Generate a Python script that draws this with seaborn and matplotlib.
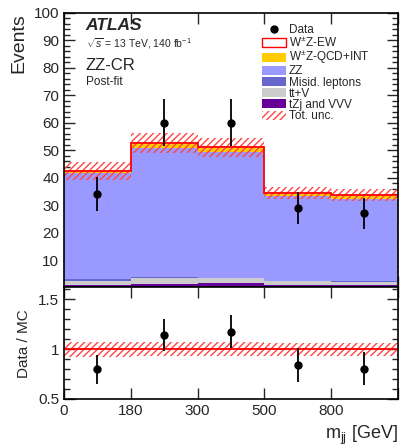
import numpy as np
import pandas as pd
import matplotlib
matplotlib.use('Agg')
import matplotlib.pyplot as plt
import seaborn as sns
from matplotlib.ticker import MultipleLocator
from matplotlib.patches import Patch
from matplotlib.lines import Line2D

# ---------------- data ----------------
bin_labels = ['0', '180', '300', '500', '800', '']
edges = np.arange(6)
centers = edges[:-1] + 0.5

data_obs = [34, 60, 60, 29, 27]
data_err = [6.2, 8.5, 8.5, 5.8, 5.6]

# stack, bottom -> top
tzj_vvv = [0.9, 1.2, 1.7, 1.0, 1.0]
ttv = [1.5, 2.3, 1.7, 1.3, 1.0]
misid = [0.6, 0.4, 0.2, 0.2, 0.2]
zz = [38.6, 46.9, 45.9, 30.9, 30.2]
wz_qcd = [0.7, 1.4, 1.2, 0.8, 1.0]
wz_ew = [0.2, 0.3, 0.3, 0.2, 0.2]
tot_unc = [3.2, 3.6, 3.5, 2.2, 2.2]

names = ['tZj and VVV', 'tt+V', 'Misid. leptons', 'ZZ',
         r'W$^{\pm}$Z-QCD+INT', r'W$^{\pm}$Z-EW']
colors = ['#660099', '#cccccc', '#6666cc', '#9999ff', '#ffcc00', 'white']
layers = [tzj_vvv, ttv, misid, zz, wz_qcd, wz_ew]

sns.set_theme(style='ticks')
plt.rcParams['font.family'] = ['Liberation Sans', 'DejaVu Sans']
plt.rcParams['mathtext.fontset'] = 'custom'
plt.rcParams['mathtext.rm'] = 'Liberation Sans'
plt.rcParams['mathtext.it'] = 'Liberation Sans:italic'
plt.rcParams['hatch.linewidth'] = 1.0

cum = np.cumsum(np.array(layers), axis=0)
total = cum[-1]
unc = np.array(tot_unc)

fig = plt.figure(figsize=(4.03, 4.46), dpi=100)
ax = fig.add_axes([0.159, 0.3554, 0.828, 0.6156])
rax = fig.add_axes([0.159, 0.1054, 0.828, 0.25], sharex=ax)

# stacked histogram: draw cumulative sums from the top down
for i in reversed(range(len(layers))):
    df = pd.DataFrame({'mjj': centers, 'events': cum[i]})
    fc = 'white' if i == len(layers) - 1 else colors[i]
    sns.histplot(data=df, x='mjj', weights='events', bins=[int(e) for e in edges],
                 element='step', fill=True, facecolor=fc, edgecolor='none',
                 alpha=1, linewidth=0, ax=ax)

# total uncertainty band
ax.fill_between(edges, np.append(total - unc, (total - unc)[-1]),
                np.append(total + unc, (total + unc)[-1]), step='post',
                facecolor='none', edgecolor='#ff4444', hatch='/////', linewidth=0)
# red outline of the total
ax.stairs(total, edges, color='red', linewidth=1.3, baseline=None)
ax.vlines([0, 5], [cum[-2][0], cum[-2][-1]], [total[0], total[-1]], color='red', linewidth=1.3)

# data
ax.errorbar(centers, data_obs, yerr=data_err, fmt='o', color='black', ms=5,
            elinewidth=1.3, capsize=0, zorder=5)

ax.set_xlim(0, 5)
ax.set_ylim(0, 100)
ax.set_ylabel('Events', loc='top', fontsize=14)
ax.set_xlabel('')
ax.yaxis.set_major_locator(MultipleLocator(10))
ax.yaxis.set_minor_locator(MultipleLocator(2))
ax.set_yticks(np.arange(10, 101, 10))
ax.set_xticks(edges)
ax.tick_params(axis='x', labelbottom=False)
for a in (ax, rax):
    a.tick_params(which='both', direction='in', top=True, right=True, labelsize=11)
    a.tick_params(which='major', length=8, width=1)
    a.tick_params(which='minor', length=4, width=1)
    for s in a.spines.values():
        s.set_linewidth(1.2)
        s.set_color('black')

ax.text(0.065, 0.953, 'ATLAS', transform=ax.transAxes, fontsize=12.5,
        fontweight='bold', fontstyle='italic', va='center')
ax.text(0.065, 0.89, r'$\sqrt{s}$ = 13 TeV, 140 fb$^{-1}$', transform=ax.transAxes,
        fontsize=7.5, va='center')
ax.text(0.065, 0.81, 'ZZ-CR', transform=ax.transAxes, fontsize=12, va='center')
ax.text(0.065, 0.747, 'Post-fit', transform=ax.transAxes, fontsize=8.5, va='center')

handles = [Line2D([], [], marker='o', color='black', linestyle='none', ms=5)]
labels = ['Data']
for i in reversed(range(len(layers))):
    if i == len(layers) - 1:
        handles.append(Patch(facecolor='white', edgecolor='red', linewidth=1))
    else:
        handles.append(Patch(facecolor=colors[i], edgecolor='none'))
    labels.append(names[i])
handles.append(Patch(facecolor='none', edgecolor='#ff4444', hatch='/////', linewidth=0))
labels.append('Tot. unc.')
ax.legend(handles, labels, loc='upper left', bbox_to_anchor=(0.593, 0.96), frameon=False,
          fontsize=8.5, handlelength=2.0, handleheight=0.8, labelspacing=-0.07,
          handletextpad=0.25, borderaxespad=0, borderpad=0)

# ratio panel
ratio = np.array(data_obs) / total
ratio_err = np.array(data_err) / total
rel = unc / total
rax.fill_between(edges, np.append(1 - rel, (1 - rel)[-1]), np.append(1 + rel, (1 + rel)[-1]),
                 step='post', facecolor='none', edgecolor='#ff4444', hatch='/////', linewidth=0)
rax.axhline(1, color='red', linewidth=1.3)
rax.errorbar(centers, ratio, yerr=ratio_err, fmt='o', color='black', ms=5,
             elinewidth=1.3, capsize=0, zorder=5)
rax.set_ylim(0.5, 1.62)
rax.set_yticks([0.5, 1, 1.5])
rax.set_yticklabels(['0.5', '1', '1.5'])
rax.yaxis.set_minor_locator(MultipleLocator(0.1))
rax.set_xticks(edges)
rax.set_xticklabels(bin_labels)
rax.set_ylabel('Data / MC', fontsize=11)
rax.set_xlabel(r'm$_{\mathrm{jj}}$ [GeV]', loc='right', fontsize=13)
rax.yaxis.set_label_coords(-0.10, 0.5)
ax.yaxis.set_label_coords(-0.11, 1.0)

fig.savefig('out.png', dpi=100)
